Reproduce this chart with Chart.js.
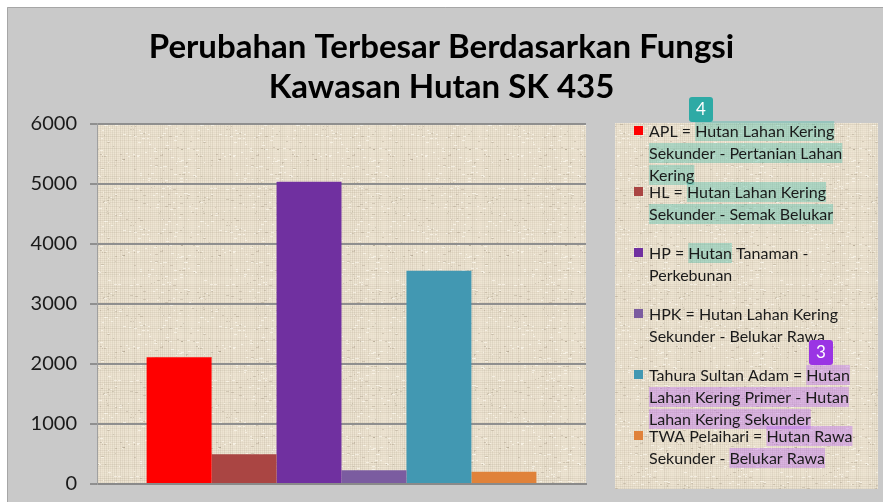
<!DOCTYPE html>
<html>
<head>
<meta charset="utf-8">
<script src="https://cdn.jsdelivr.net/npm/chart.js@4/dist/chart.umd.min.js"></script>
<style>
  html, body { margin: 0; padding: 0; background: #fff; }
  #wrap { width: 883px; height: 502px; }
</style>
</head>
<body>
<div id="wrap"><canvas id="chart" width="883" height="502"></canvas></div>
<script>
// data
const seriesNames = ['APL', 'HL', 'HP', 'HPK', 'Tahura Sultan Adam', 'TWA Pelaihari'];
const seriesValues = [2110, 495, 5030, 228, 3550, 205];
const seriesColors = ['#ff0000', '#aa4543', '#7030a0', '#7b5ca0', '#4298b2', '#e0823a'];
const yTickLabels = ['0', '1000', '2000', '3000', '4000', '5000', '6000'];
const titleLines = ['Perubahan Terbesar Berdasarkan Fungsi', 'Kawasan Hutan SK 435'];

// legend text, line by line; 't' = teal highlight, 'p' = purple highlight
const legendLines = [
    [[['APL = ', ''], ['Hutan Lahan Kering', 't']], [['Sekunder - Pertanian Lahan', 't']], [['Kering', 't']]],
    [[['HL = ', ''], ['Hutan Lahan Kering', 't']], [['Sekunder - Semak Belukar', 't']]],
    [[['HP = ', ''], ['Hutan', 't'], [' Tanaman -', '']], [['Perkebunan', '']]],
    [[['HPK = Hutan Lahan Kering', '']], [['Sekunder - Belukar Rawa', '']]],
    [[['Tahura Sultan Adam = ', ''], ['Hutan', 'p']], [['Lahan Kering Primer - Hutan', 'p']], [['Lahan Kering Sekunder', 'p']]],
    [[['TWA Pelaihari = ', ''], ['Hutan Rawa', 'p']], [['Sekunder - ', ''], ['Belukar Rawa', 'p']]]
];

// burlap-ish texture
function makeTexture() {
    const c = document.createElement('canvas');
    c.width = 96; c.height = 96;
    const g = c.getContext('2d');
    g.fillStyle = '#eee5d3';
    g.fillRect(0, 0, 96, 96);
    let s = 7;
    const rnd = () => { s = (s * 16807) % 2147483647; return s / 2147483647; };
    for (let i = 0; i < 96; i += 2) {
        g.fillStyle = 'rgba(130,115,90,' + (0.02 + rnd() * 0.12) + ')';
        g.fillRect(i, 0, 1, 96);
        g.fillStyle = 'rgba(130,115,90,' + (0.02 + rnd() * 0.12) + ')';
        g.fillRect(0, i, 96, 1);
    }
    for (let k = 0; k < 220; k++) {
        const x = Math.floor(rnd() * 96), y = Math.floor(rnd() * 96);
        g.fillStyle = rnd() > 0.45 ? 'rgba(255,252,244,0.6)' : 'rgba(100,85,60,0.18)';
        g.fillRect(x, y, 1 + Math.floor(rnd() * 3), 1);
    }
    return c;
}
const texture = makeTexture();

const ctx = document.getElementById('chart').getContext('2d');
const pattern = ctx.createPattern(texture, 'repeat');

const backgroundPlugin = {
    id: 'panelBackground',
    beforeDraw(chart) {
        const c = chart.ctx;
        const a = chart.chartArea;
        c.save();
        c.fillStyle = '#ffffff';
        c.fillRect(0, 0, chart.width, chart.height);
        c.fillStyle = '#c9c9c9';
        c.fillRect(7, 7, chart.width - 7, chart.height - 7);
        c.strokeStyle = '#a6a6a6';
        c.lineWidth = 1;
        c.beginPath();
        c.moveTo(7.5, chart.height);
        c.lineTo(7.5, 7.5);
        c.lineTo(chart.width, 7.5);
        c.stroke();
        c.fillStyle = pattern;
        c.fillRect(a.left, a.top, a.right - a.left, a.bottom - a.top);
        c.restore();
    }
};

const legendPlugin = {
    id: 'sideLegend',
    afterDraw(chart) {
        const c = chart.ctx;
        const box = { x: 615, y: 123, w: 263, h: 366 };
        c.save();
        c.fillStyle = pattern;
        c.fillRect(box.x, box.y, box.w, box.h);
        c.font = '16px Lato';
        c.textBaseline = 'middle';
        const hlColors = { t: 'rgba(70,190,170,0.38)', p: 'rgba(185,100,245,0.38)' };
        chart.data.datasets.forEach((ds, i) => {
            const y0 = 131 + i * 61;
            c.fillStyle = ds.backgroundColor;
            c.fillRect(634, y0 - 5, 9, 9);
            legendLines[i].forEach((line, j) => {
                const y = y0 + j * 22;
                let x = 649;
                line.forEach(([txt, hl]) => {
                    const w = c.measureText(txt).width;
                    if (hl) {
                        c.fillStyle = hlColors[hl];
                        c.fillRect(x, y - 10, w, 20);
                    }
                    c.fillStyle = '#1a1a1a';
                    c.fillText(txt, x, y + 1);
                    x += w;
                });
            });
        });
        // numbered badges
        const badge = (x, y, col, txt) => {
            c.fillStyle = col;
            c.beginPath();
            c.roundRect(x, y, 24, 25, 3);
            c.fill();
            c.fillStyle = '#ffffff';
            c.font = '17px Lato';
            c.textAlign = 'center';
            c.fillText(txt, x + 12, y + 13);
            c.textAlign = 'left';
        };
        badge(689, 97, '#2eaaa5', '4');
        badge(809, 340, '#9a34e4', '3');
        c.restore();
    }
};

new Chart(ctx, {
    type: 'bar',
    data: {
        labels: [''],
        datasets: seriesNames.map((name, i) => ({
            label: name,
            data: [seriesValues[i]],
            backgroundColor: seriesColors[i],
            borderWidth: 0,
            categoryPercentage: 0.797,
            barPercentage: 1
        }))
    },
    options: {
        responsive: false,
        animation: false,
        layout: { padding: { left: 0, right: 0, top: 0, bottom: 18 } },
        plugins: {
            legend: { display: false },
            tooltip: { enabled: false },
            title: {
                display: true,
                text: titleLines,
                color: '#000',
                font: { family: 'Lato', size: 33, weight: 'bold', lineHeight: 1.22 },
                padding: { top: 27, bottom: 16 }
            }
        },
        scales: {
            x: {
                ticks: { display: false },
                grid: { display: false },
                border: { color: '#8a8a8a', width: 2 },
                afterFit(scale) { scale.height = 0; }
            },
            y: {
                min: 0,
                max: 6000,
                ticks: {
                    stepSize: 1000,
                    padding: 13,
                    color: '#1a1a1a',
                    font: { family: 'Lato', size: 20 },
                    callback: (v, i) => yTickLabels[i]
                },
                grid: { color: '#8f8f8f', lineWidth: 2, tickLength: 7, tickColor: '#8f8f8f' },
                border: { color: '#a0a0a0', width: 1 },
                afterFit(scale) {
                    scale.width = 97;
                    scale.paddingTop = 0;
                    scale.paddingBottom = 0;
                }
            },
            // empty right-hand axis that just reserves room for the side legend
            side: {
                position: 'right',
                display: true,
                ticks: { display: false },
                grid: { display: false, drawTicks: false },
                border: { display: false },
                afterFit(scale) {
                    scale.width = 297;
                    scale.paddingTop = 0;
                    scale.paddingBottom = 0;
                }
            }
        }
    },
    plugins: [backgroundPlugin, legendPlugin]
});
</script>
</body>
</html>
